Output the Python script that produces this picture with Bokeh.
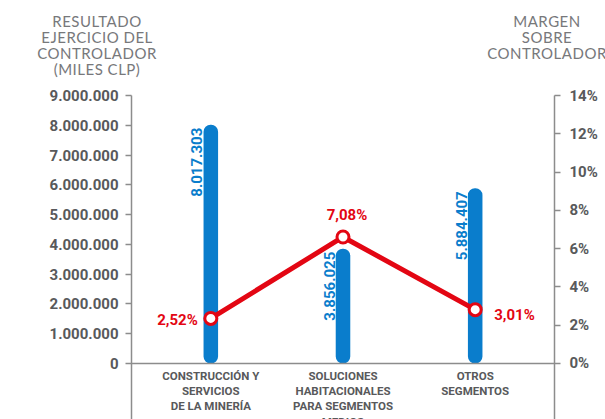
import math
from bokeh.plotting import figure
from bokeh.layouts import column
from bokeh.models import (FactorRange, Range1d, LinearAxis, FixedTicker,
                          CustomJSTickFormatter, Span, Div)
from bokeh.core.properties import value
from bokeh.embed import file_html
from bokeh.resources import INLINE

# ---------------- data ----------------
categories = [
    "CONSTRUCCIÓN Y\nSERVICIOS\nDE LA MINERÍA",
    "SOLUCIONES\nHABITACIONALES\nPARA SEGMENTOS\nMEDIOS",
    "OTROS\nSEGMENTOS",
]
resultado = [8017303, 3856025, 5884407]
resultado_labels = ["8.017.303", "3.856.025", "5.884.407"]
margen = [2.52, 7.08, 3.01]
margen_labels = ["2,52%", "7,08%", "3,01%"]
left_ticks = [0, 1000000, 2000000, 3000000, 4000000, 5000000,
              6000000, 7000000, 8000000, 9000000]
right_tick_labels = ["0%", "2%", "4%", "6%", "8%", "10%", "12%", "14%"]
left_title = ["RESULTADO", "EJERCICIO DEL", "CONTROLADOR", "(MILES CLP)"]
right_title = ["MARGEN", "SOBRE", "CONTROLADOR"]

# ---------------- styles ----------------
NUM_FONT = "Roboto"
TITLE_FONT = "Lato"
BLUE = "#0a7dcc"
RED = "#e30613"
GRAY = "#58595b"
AXIS_GRAY = "#8c8c8c"
TITLE_GRAY = "#77787b"

W, H = 605, 419
HEAD_H = 85
FRAME_L, FRAME_R, FRAME_T = 131, 554, 95
X_PAD = 0.1

LEFT_MAX = 9000000
LEFT_MIN = -1880000
PCT_MAX = 15.0
PCT_MIN = -3.14

# ---------------- header with the two axis titles ----------------
def title_block(lines, center_x):
    return ('<div style="position:absolute;left:%dpx;top:13px;transform:translateX(-50%%);'
            'text-align:center;white-space:nowrap;">%s</div>' % (center_x, "<br>".join(lines)))

head_html = ('<div style="position:relative;width:%dpx;height:%dpx;overflow:hidden;'
             'font-family:%s;font-size:15px;line-height:16px;letter-spacing:0.5px;color:%s;">%s%s</div>'
             % (W, HEAD_H, TITLE_FONT, TITLE_GRAY,
                title_block(left_title, 97), title_block(right_title, 547)))
head = Div(text=head_html, width=W, height=HEAD_H, margin=0)

# ---------------- main chart ----------------
p = figure(width=W, height=H - HEAD_H, output_backend="svg", toolbar_location=None,
           x_range=FactorRange(factors=categories, range_padding=X_PAD,
                               range_padding_units="absolute"),
           y_range=Range1d(LEFT_MIN, LEFT_MAX),
           x_axis_location=None,
           min_border_left=FRAME_L, min_border_right=W - FRAME_R,
           min_border_top=FRAME_T - HEAD_H, min_border_bottom=0)
p.outline_line_color = None
p.grid.visible = False
p.extra_y_ranges = {"pct": Range1d(PCT_MIN, PCT_MAX)}

# left axis
ya = p.yaxis[0]
ya.ticker = FixedTicker(ticks=left_ticks)
ya.formatter = CustomJSTickFormatter(
    code="return Math.round(tick).toString().replace(/\\B(?=(\\d{3})+(?!\\d))/g, '.');")
ya.axis_line_color = AXIS_GRAY
ya.axis_line_width = 1.5
ya.major_tick_line_color = AXIS_GRAY
ya.major_tick_line_width = 1.5
ya.major_tick_out = 6
ya.major_tick_in = 0
ya.minor_tick_line_color = None
ya.major_label_standoff = 7
ya.major_label_text_font = NUM_FONT
ya.major_label_text_font_style = "bold"
ya.major_label_text_font_size = "15px"
ya.major_label_text_color = GRAY

# right axis
n = len(right_tick_labels) - 1
rticks = [PCT_MAX * k / n for k in range(n + 1)]
ra = LinearAxis(y_range_name="pct", ticker=FixedTicker(ticks=rticks),
                major_label_overrides={t: lab for t, lab in zip(rticks, right_tick_labels)})
ra.axis_line_color = AXIS_GRAY
ra.axis_line_width = 1.5
ra.major_tick_line_color = AXIS_GRAY
ra.major_tick_line_width = 1.5
ra.major_tick_out = 6
ra.major_tick_in = 0
ra.minor_tick_line_color = None
ra.major_label_standoff = 9
ra.major_label_text_font = NUM_FONT
ra.major_label_text_font_style = "bold"
ra.major_label_text_font_size = "15px"
ra.major_label_text_color = GRAY
p.add_layout(ra, "right")

# baseline
p.add_layout(Span(location=0, dimension="width", line_color=AXIS_GRAY, line_width=1.5))

# bars
p.vbar(x=categories, top=resultado, bottom=0, width=0.11,
       fill_color=BLUE, line_color=None, border_radius=7)

# bar value labels (rotated)
p.text(x=categories, y=resultado, text=resultado_labels, angle=math.pi / 2,
       text_align="right", text_baseline="alphabetic", x_offset=-14, y_offset=3,
       text_font=value(NUM_FONT), text_font_style="bold", text_font_size="15px",
       text_color=BLUE)

# margin line
p.line(x=categories, y=margen, y_range_name="pct", line_color=RED, line_width=5)
p.scatter(x=categories, y=margen, y_range_name="pct", size=12, fill_color="white",
          line_color=RED, line_width=3)

# margin labels
p.text(x=categories[0:1], y=margen[0:1], text=margen_labels[0:1], y_range_name="pct",
       text_align="right", text_baseline="middle", x_offset=-13, y_offset=2,
       text_font=value(NUM_FONT), text_font_style="bold", text_font_size="15px",
       text_color=RED)
p.text(x=categories[1:2], y=margen[1:2], text=margen_labels[1:2], y_range_name="pct",
       text_align="center", text_baseline="middle", x_offset=4, y_offset=-22,
       text_font=value(NUM_FONT), text_font_style="bold", text_font_size="15px",
       text_color=RED)
p.text(x=categories[2:3], y=margen[2:3], text=margen_labels[2:3], y_range_name="pct",
       text_align="left", text_baseline="middle", x_offset=19, y_offset=5,
       text_font=value(NUM_FONT), text_font_style="bold", text_font_size="15px",
       text_color=RED)

# category labels
p.text(x=categories, y=0, text=categories, text_align="center", text_baseline="top",
       y_offset=5, text_line_height=1.1,
       text_font=value(NUM_FONT), text_font_style="bold", text_font_size="11.5px",
       text_color=GRAY)

layout = column(head, p, spacing=0)
open("out.html", "w").write(file_html(layout, INLINE))
